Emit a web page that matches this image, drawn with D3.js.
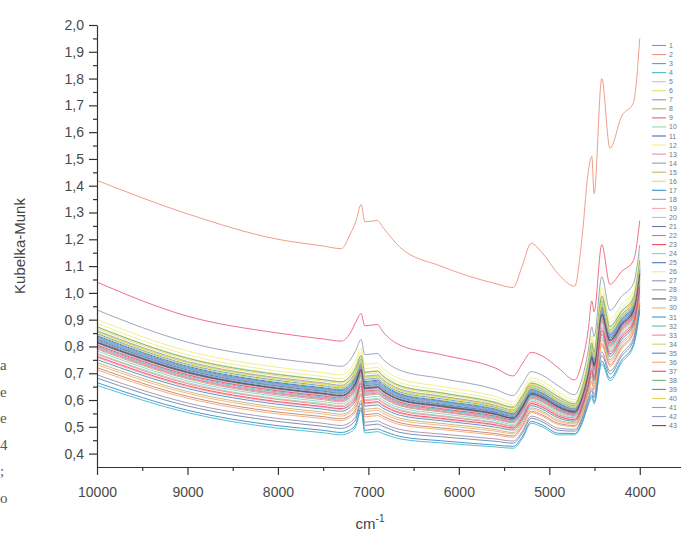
<!DOCTYPE html>
<html>
<head>
<meta charset="utf-8">
<script src="https://cdn.jsdelivr.net/npm/d3@7"></script>
<style>
  body { margin: 0; background: #fff; }
  svg { display: block; }
</style>
</head>
<body>
<svg></svg>
<script>
const wavenumbers = [10000, 9000, 8000, 7500, 7300, 7200, 7140, 7080, 7040, 6900, 6840, 6650, 6200, 5600, 5400, 5300, 5200, 5080, 4900, 4720, 4640, 4570, 4530, 4505, 4420, 4330, 4200, 4070, 4000];

// Kubelka-Munk values, one array per sample
const s1  = [0.832,0.719,0.659,0.640,0.632,0.651,0.680,0.729,0.661,0.666,0.650,0.617,0.592,0.561,0.545,0.584,0.635,0.622,0.585,0.564,0.616,0.709,0.776,0.744,0.940,0.838,0.896,0.947,1.086];
const s2  = [1.420,1.295,1.200,1.175,1.165,1.220,1.265,1.330,1.265,1.270,1.245,1.170,1.100,1.035,1.020,1.100,1.185,1.150,1.070,1.025,1.200,1.450,1.510,1.370,1.800,1.540,1.660,1.710,1.950];
const s3  = [0.848,0.733,0.673,0.653,0.645,0.665,0.695,0.743,0.677,0.682,0.665,0.630,0.605,0.573,0.555,0.595,0.646,0.633,0.595,0.573,0.625,0.720,0.790,0.758,0.958,0.852,0.910,0.960,1.100];
const s4  = [0.655,0.553,0.495,0.478,0.470,0.480,0.500,0.563,0.477,0.482,0.475,0.455,0.440,0.425,0.420,0.455,0.513,0.500,0.470,0.470,0.510,0.580,0.610,0.585,0.735,0.672,0.740,0.800,0.930];
const s5  = [0.809,0.697,0.637,0.618,0.610,0.628,0.656,0.707,0.637,0.642,0.627,0.595,0.572,0.543,0.528,0.567,0.619,0.606,0.570,0.552,0.602,0.692,0.754,0.723,0.913,0.816,0.876,0.928,1.066];
const s6  = [0.874,0.758,0.697,0.677,0.669,0.691,0.722,0.768,0.705,0.710,0.692,0.655,0.628,0.593,0.574,0.615,0.664,0.651,0.613,0.587,0.641,0.740,0.815,0.782,0.989,0.877,0.934,0.982,1.124];
const s7  = [0.821,0.708,0.648,0.629,0.621,0.639,0.668,0.718,0.649,0.654,0.638,0.606,0.582,0.552,0.536,0.575,0.627,0.614,0.578,0.558,0.609,0.700,0.765,0.733,0.926,0.827,0.886,0.938,1.076];
const s8  = [0.790,0.679,0.619,0.601,0.593,0.610,0.637,0.689,0.617,0.622,0.608,0.578,0.556,0.528,0.515,0.553,0.606,0.593,0.558,0.542,0.591,0.678,0.736,0.706,0.891,0.798,0.859,0.912,1.049];
const s9  = [1.040,0.913,0.850,0.828,0.820,0.850,0.890,0.923,0.877,0.882,0.855,0.805,0.770,0.720,0.690,0.735,0.778,0.765,0.720,0.675,0.740,0.860,0.970,0.930,1.180,1.032,1.080,1.120,1.270];
const s10 = [0.774,0.665,0.605,0.587,0.579,0.595,0.621,0.675,0.601,0.606,0.593,0.564,0.542,0.517,0.504,0.542,0.596,0.582,0.548,0.534,0.581,0.667,0.722,0.692,0.873,0.784,0.845,0.899,1.035];
const s11 = [0.840,0.726,0.665,0.646,0.638,0.659,0.688,0.737,0.669,0.674,0.658,0.623,0.598,0.567,0.550,0.590,0.640,0.627,0.590,0.568,0.620,0.714,0.783,0.750,0.949,0.845,0.903,0.953,1.092];
const s12 = [0.901,0.783,0.722,0.702,0.694,0.717,0.750,0.793,0.733,0.738,0.718,0.679,0.651,0.614,0.593,0.634,0.683,0.670,0.630,0.601,0.657,0.759,0.840,0.806,1.020,0.902,0.958,1.005,1.148];
const s13 = [0.798,0.686,0.626,0.608,0.600,0.617,0.645,0.696,0.625,0.630,0.616,0.585,0.563,0.534,0.520,0.559,0.611,0.598,0.563,0.546,0.596,0.684,0.743,0.713,0.900,0.805,0.866,0.918,1.056];
const s14 = [0.936,0.816,0.754,0.734,0.726,0.750,0.785,0.826,0.769,0.774,0.752,0.711,0.681,0.640,0.617,0.659,0.706,0.693,0.653,0.620,0.678,0.784,0.873,0.837,1.060,0.935,0.988,1.034,1.178];
const s15 = [0.740,0.632,0.573,0.555,0.547,0.561,0.586,0.642,0.565,0.570,0.559,0.532,0.513,0.490,0.479,0.517,0.571,0.558,0.525,0.515,0.561,0.642,0.689,0.661,0.833,0.751,0.815,0.870,1.005];
const s16 = [0.867,0.751,0.690,0.671,0.663,0.684,0.715,0.761,0.697,0.702,0.684,0.648,0.622,0.587,0.569,0.609,0.659,0.646,0.608,0.583,0.637,0.734,0.808,0.775,0.980,0.870,0.927,0.976,1.117];
const s17 = [0.665,0.562,0.504,0.487,0.479,0.489,0.510,0.572,0.487,0.492,0.485,0.464,0.448,0.432,0.427,0.462,0.520,0.507,0.476,0.475,0.516,0.587,0.619,0.594,0.746,0.681,0.749,0.808,0.939];
const s18 = [0.828,0.715,0.655,0.636,0.628,0.647,0.676,0.725,0.657,0.662,0.646,0.613,0.589,0.558,0.542,0.581,0.632,0.619,0.583,0.562,0.614,0.706,0.772,0.740,0.935,0.834,0.893,0.944,1.083];
const s19 = [0.759,0.650,0.591,0.573,0.565,0.580,0.605,0.660,0.585,0.590,0.578,0.550,0.529,0.505,0.493,0.531,0.585,0.572,0.538,0.525,0.572,0.656,0.707,0.678,0.855,0.769,0.832,0.886,1.022];
const s20 = [0.856,0.740,0.680,0.660,0.652,0.673,0.703,0.750,0.685,0.690,0.673,0.637,0.612,0.578,0.560,0.601,0.651,0.638,0.600,0.577,0.630,0.726,0.797,0.765,0.967,0.859,0.917,0.966,1.107];
const s21 = [0.813,0.701,0.641,0.622,0.614,0.632,0.660,0.711,0.641,0.646,0.631,0.599,0.575,0.546,0.531,0.570,0.622,0.609,0.573,0.554,0.604,0.695,0.758,0.726,0.917,0.820,0.879,0.931,1.069];
const s22 = [0.721,0.614,0.555,0.538,0.530,0.543,0.566,0.624,0.545,0.550,0.540,0.515,0.496,0.475,0.466,0.503,0.558,0.545,0.513,0.505,0.549,0.628,0.671,0.644,0.811,0.733,0.798,0.854,0.988];
const s23 = [0.805,0.694,0.634,0.615,0.607,0.625,0.652,0.704,0.633,0.638,0.623,0.592,0.568,0.540,0.526,0.564,0.617,0.604,0.568,0.550,0.599,0.689,0.751,0.720,0.908,0.813,0.872,0.925,1.062];
const s24 = [0.783,0.672,0.613,0.594,0.586,0.602,0.629,0.682,0.609,0.614,0.600,0.571,0.549,0.523,0.509,0.547,0.601,0.588,0.553,0.538,0.586,0.672,0.729,0.699,0.882,0.791,0.852,0.906,1.042];
const s25 = [0.825,0.712,0.652,0.633,0.625,0.643,0.672,0.722,0.653,0.658,0.642,0.610,0.585,0.555,0.539,0.578,0.630,0.617,0.580,0.560,0.611,0.703,0.769,0.737,0.931,0.831,0.889,0.941,1.079];
const s26 = [0.886,0.769,0.708,0.688,0.680,0.702,0.734,0.779,0.717,0.722,0.703,0.665,0.638,0.602,0.582,0.623,0.672,0.659,0.620,0.593,0.648,0.748,0.826,0.792,1.002,0.888,0.944,0.992,1.134];
const s27 = [0.694,0.589,0.531,0.513,0.505,0.517,0.539,0.599,0.517,0.522,0.513,0.490,0.473,0.455,0.447,0.483,0.540,0.527,0.495,0.491,0.533,0.608,0.646,0.620,0.780,0.708,0.774,0.832,0.964];
const s28 = [0.859,0.744,0.683,0.664,0.655,0.677,0.707,0.754,0.689,0.694,0.677,0.641,0.615,0.581,0.563,0.603,0.654,0.641,0.603,0.579,0.632,0.729,0.801,0.768,0.971,0.863,0.920,0.970,1.110];
const s29 = [0.817,0.705,0.644,0.625,0.617,0.635,0.664,0.714,0.645,0.650,0.635,0.602,0.579,0.549,0.533,0.573,0.625,0.611,0.575,0.556,0.607,0.698,0.761,0.730,0.922,0.823,0.883,0.934,1.073];
const s30 = [0.732,0.625,0.566,0.548,0.540,0.554,0.578,0.635,0.557,0.562,0.551,0.525,0.506,0.484,0.474,0.511,0.566,0.553,0.520,0.511,0.556,0.636,0.682,0.654,0.824,0.744,0.808,0.864,0.998];
const s31 = [0.836,0.722,0.662,0.643,0.635,0.655,0.684,0.733,0.665,0.670,0.654,0.620,0.595,0.564,0.548,0.587,0.638,0.625,0.588,0.566,0.618,0.712,0.780,0.747,0.944,0.842,0.900,0.950,1.089];
const s32 = [0.801,0.690,0.630,0.611,0.603,0.621,0.648,0.700,0.629,0.634,0.619,0.588,0.565,0.537,0.523,0.561,0.614,0.601,0.565,0.548,0.597,0.686,0.747,0.716,0.904,0.809,0.869,0.922,1.059];
const s33 = [0.771,0.661,0.602,0.583,0.575,0.591,0.617,0.671,0.597,0.602,0.589,0.560,0.539,0.514,0.501,0.539,0.593,0.580,0.545,0.532,0.579,0.664,0.718,0.689,0.869,0.780,0.842,0.896,1.032];
const s34 = [0.844,0.730,0.669,0.650,0.642,0.662,0.692,0.740,0.673,0.678,0.662,0.627,0.601,0.570,0.553,0.592,0.643,0.630,0.593,0.570,0.622,0.717,0.787,0.754,0.953,0.849,0.907,0.956,1.096];
const s35 = [0.751,0.643,0.584,0.566,0.558,0.573,0.598,0.653,0.577,0.582,0.570,0.543,0.523,0.499,0.488,0.525,0.579,0.566,0.533,0.521,0.568,0.650,0.700,0.671,0.846,0.762,0.825,0.880,1.015];
const s36 = [0.713,0.607,0.548,0.531,0.523,0.536,0.559,0.617,0.537,0.542,0.532,0.508,0.490,0.469,0.461,0.497,0.553,0.540,0.508,0.501,0.545,0.622,0.664,0.637,0.802,0.726,0.791,0.848,0.981];
const s37 = [0.763,0.654,0.594,0.576,0.568,0.584,0.609,0.664,0.589,0.594,0.581,0.553,0.532,0.508,0.496,0.533,0.587,0.574,0.540,0.527,0.574,0.658,0.711,0.682,0.860,0.773,0.835,0.890,1.025];
const s38 = [0.873,0.756,0.695,0.676,0.668,0.690,0.721,0.766,0.703,0.708,0.690,0.653,0.627,0.591,0.573,0.613,0.663,0.650,0.612,0.586,0.641,0.738,0.813,0.780,0.987,0.875,0.932,0.981,1.122];
const s39 = [0.682,0.578,0.520,0.502,0.494,0.506,0.527,0.588,0.505,0.510,0.502,0.479,0.463,0.446,0.439,0.475,0.532,0.519,0.487,0.484,0.526,0.600,0.635,0.609,0.766,0.697,0.764,0.822,0.954];
const s40 = [0.854,0.738,0.678,0.658,0.650,0.671,0.701,0.748,0.683,0.688,0.671,0.635,0.610,0.577,0.559,0.599,0.650,0.637,0.599,0.576,0.629,0.724,0.795,0.763,0.965,0.857,0.915,0.965,1.105];
const s41 = [0.794,0.683,0.623,0.605,0.597,0.614,0.641,0.693,0.621,0.626,0.612,0.582,0.559,0.531,0.518,0.556,0.609,0.596,0.561,0.544,0.593,0.681,0.740,0.710,0.895,0.802,0.862,0.915,1.052];
const s42 = [0.830,0.717,0.657,0.638,0.630,0.649,0.678,0.727,0.659,0.664,0.648,0.615,0.591,0.560,0.543,0.582,0.633,0.620,0.584,0.563,0.615,0.707,0.774,0.742,0.937,0.836,0.895,0.946,1.085];
const s43 = [0.815,0.703,0.643,0.624,0.616,0.634,0.662,0.713,0.643,0.648,0.633,0.601,0.577,0.548,0.532,0.571,0.623,0.610,0.574,0.555,0.605,0.696,0.760,0.728,0.919,0.822,0.881,0.933,1.071];

const spectra = [s1, s2, s3, s4, s5, s6, s7, s8, s9, s10, s11, s12, s13, s14, s15, s16, s17, s18, s19, s20,
    s21, s22, s23, s24, s25, s26, s27, s28, s29, s30, s31, s32, s33, s34, s35, s36, s37, s38, s39, s40, s41, s42, s43];

const seriesNames = ['1','2','3','4','5','6','7','8','9','10','11','12','13','14','15','16','17','18','19','20','21',
    '22','23','24','25','26','27','28','29','30','31','32','33','34','35','36','37','38','39','40','41','42','43'];

// faded colours as they appear in the scan
const seriesColors = ['#8a8fb8','#ec9480','#5b9bd0','#3fbcc8','#f0b0c8','#d9e36a','#8c96bc','#b8a878','#f0607a','#9ad3a8',
    '#4a66b0','#eef07a','#e890b0','#8fa0b8','#c8b070','#ecd870','#3a8ccc','#78b4b4','#f4a8a8','#c4d44a',
    '#6878a8','#c88070','#f04858','#8ccccc','#4878c0','#f4e4a0','#a090b0','#a0a0a0','#556070','#f0b070',
    '#3c9ad8','#5cbcbc','#f08898','#c8d870','#4c88c8','#f4a870','#f04a5a','#6cb878','#6c88a8','#e8d860',
    '#e878a8','#98a0c8','#585858'];

const xTicks = [10000, 9000, 8000, 7000, 6000, 5000, 4000];
const yTicks = [0.4, 0.5, 0.6, 0.7, 0.8, 0.9, 1.0, 1.1, 1.2, 1.3, 1.4, 1.5, 1.6, 1.7, 1.8, 1.9, 2.0];

// scraps of the page text at the left edge of the scan
const pageScraps = ['a', 'e', 'e', '4', ';', 'o'];

const W = 681, H = 535;
const plot = {l: 97, r: 685, t: 25, b: 467};

const svg = d3.select('svg')
    .attr('width', W)
    .attr('height', H)
    .style('font-family', 'Liberation Sans, Arial, sans-serif');

const x = d3.scaleLinear().domain([10000, 3500]).range([plot.l, plot.r]);
const y = d3.scaleLinear().domain([0.35, 2.0]).range([plot.b, plot.t]);

svg.append('clipPath').attr('id', 'clip')
  .append('rect')
    .attr('x', plot.l).attr('y', plot.t - 2)
    .attr('width', W - plot.l).attr('height', plot.b - plot.t + 2);

// spectra
const line = d3.line()
    .x((d, i) => x(wavenumbers[i]))
    .y(d => y(d))
    .curve(d3.curveMonotoneX);

svg.append('g')
    .attr('clip-path', 'url(#clip)')
  .selectAll('path')
  .data(spectra)
  .join('path')
    .attr('d', line)
    .attr('fill', 'none')
    .attr('stroke', (d, i) => seriesColors[i])
    .attr('stroke-width', 1)
    .attr('stroke-opacity', 0.9);

// axes
const commaFmt = d => d3.format('.1f')(d).replace('.', ',');

svg.append('g')
    .attr('transform', `translate(${plot.l},0)`)
    .call(d3.axisLeft(y).tickValues(yTicks).tickSize(8).tickSizeOuter(0).tickPadding(5).tickFormat(commaFmt));
svg.append('g')
    .attr('transform', `translate(${plot.l},0)`)
    .call(d3.axisLeft(y).tickValues(d3.range(0.45, 2.0, 0.1)).tickSize(4).tickFormat(''))
    .select('.domain').remove();

svg.append('g')
    .attr('transform', `translate(0,${plot.b})`)
    .call(d3.axisBottom(x).tickValues(xTicks).tickSize(8).tickSizeOuter(0).tickPadding(12).tickFormat(d3.format('d')));
svg.append('g')
    .attr('transform', `translate(0,${plot.b})`)
    .call(d3.axisBottom(x).tickValues(d3.range(9500, 3000, -1000)).tickSize(4).tickFormat(''))
    .select('.domain').remove();

svg.selectAll('.domain, .tick line')
    .attr('stroke', '#333')
    .attr('stroke-width', 1.2);
svg.selectAll('.tick text')
    .attr('fill', '#4a4a4a')
    .style('font-size', '14px')
    .style('font-family', 'Liberation Sans, Arial, sans-serif');

// axis titles
svg.append('text')
    .attr('transform', 'translate(25,246) rotate(-90)')
    .attr('text-anchor', 'middle')
    .attr('fill', '#444')
    .style('font-size', '15px')
    .text('Kubelka-Munk');

const xTitle = svg.append('text')
    .attr('x', 370)
    .attr('y', 529)
    .attr('text-anchor', 'middle')
    .attr('fill', '#444')
    .style('font-size', '15px');
xTitle.append('tspan').text('cm');
xTitle.append('tspan').attr('dy', -7).style('font-size', '10px').text('-1');

// legend
const legendItem = svg.append('g')
  .selectAll('g')
  .data(seriesNames)
  .join('g')
    .attr('transform', (d, i) => `translate(652,${45.5 + i * 9.05})`);
legendItem.append('line')
    .attr('x1', 0).attr('x2', 14)
    .attr('stroke', (d, i) => seriesColors[i])
    .attr('stroke-width', 1.1);
legendItem.append('text')
    .attr('x', 17).attr('y', 2.5)
    .attr('fill', '#777')
    .style('font-size', '7px')
    .text(d => d);

// page text scraps at the left edge
svg.append('g')
  .selectAll('text')
  .data(pageScraps)
  .join('text')
    .attr('x', 0)
    .attr('y', (d, i) => 370 + i * 26.5)
    .attr('fill', '#555')
    .style('font-size', '15px')
    .style('font-family', 'Liberation Serif, serif')
    .text(d => d);
</script>
</body>
</html>
